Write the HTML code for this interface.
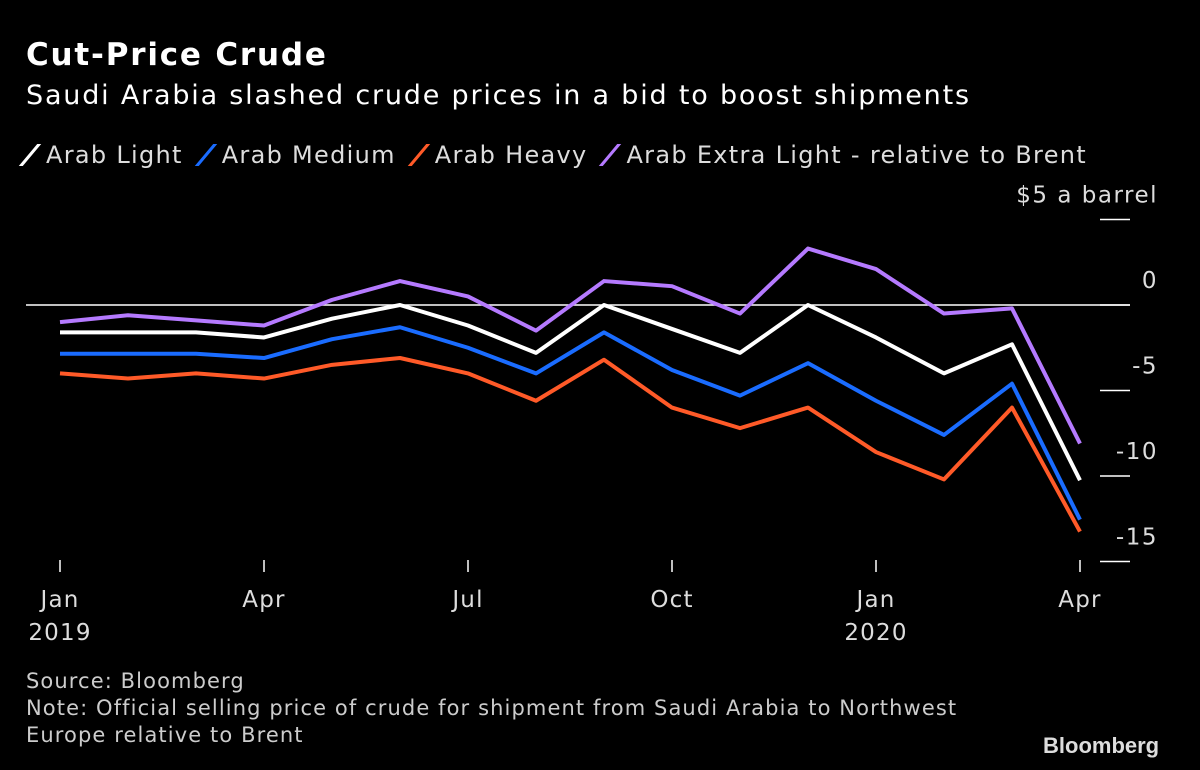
<!DOCTYPE html>
<html><head><meta charset="utf-8"><style>
body{margin:0;background:#000;width:1200px;height:770px;overflow:hidden;font-family:"DejaVu Sans",sans-serif;color:#fff}
.t{position:absolute;white-space:nowrap}
.mk{display:inline-block;width:4px;height:22px;transform:skewX(-40deg);margin:0 14px 0 12px;vertical-align:-3px}
</style></head><body>
<div class="t" style="left:26px;top:37px;font-size:31px;font-weight:bold;letter-spacing:1.8px">Cut-Price Crude</div>
<div class="t" style="left:26px;top:80px;font-size:27px;letter-spacing:1.8px">Saudi Arabia slashed crude prices in a bid to boost shipments</div>
<div class="t" style="left:16px;top:141px;font-size:24px;color:#ddd;letter-spacing:1.3px">
<span><i class="mk" style="background:#fff"></i>Arab Light</span>
<span><i class="mk" style="background:#1a6cff"></i>Arab Medium</span>
<span><i class="mk" style="background:#ff5a28"></i>Arab Heavy</span>
<span><i class="mk" style="background:#b57aff"></i>Arab Extra Light - relative to Brent</span></div>
<svg id="c" width="1200" height="770" style="position:absolute;left:0;top:0"></svg>
<div class="t" style="left:26px;top:668px;font-size:21px;color:#ccc;line-height:27px;letter-spacing:1.1px">Source: Bloomberg<br>Note: Official selling price of crude for shipment from Saudi Arabia to Northwest<br>Europe relative to Brent</div>
<div class="t" style="left:1043px;top:733px;font-size:22px;font-weight:bold;color:#ddd;font-family:'Liberation Sans',sans-serif">Bloomberg</div>
<script>
const months=["Jan 2019","Feb","Mar","Apr","May","Jun","Jul","Aug","Sep","Oct","Nov","Dec","Jan 2020","Feb","Mar","Apr"];
const arabLight=[-1.6,-1.6,-1.6,-1.9,-0.8,0,-1.2,-2.8,0,-1.4,-2.8,0,-1.9,-4.0,-2.3,-10.25];
const arabMedium=[-2.85,-2.85,-2.85,-3.1,-2.0,-1.3,-2.5,-4.0,-1.6,-3.8,-5.3,-3.4,-5.6,-7.6,-4.6,-12.55];
const arabHeavy=[-4.0,-4.3,-4.0,-4.3,-3.5,-3.1,-4.0,-5.6,-3.2,-6.0,-7.2,-6.0,-8.6,-10.2,-6.0,-13.25];
const arabExtraLight=[-1.0,-0.6,-0.9,-1.2,0.3,1.4,0.5,-1.5,1.4,1.1,-0.5,3.3,2.1,-0.5,-0.2,-8.1];
const yTicks=[5,0,-5,-10,-15];
const yTickLabels=["$5 a barrel","0","-5","-10","-15"];
const xTickIdx=[0,3,6,9,12,15];
const xTickLabels=[["Jan","2019"],["Apr",""],["Jul",""],["Oct",""],["Jan","2020"],["Apr",""]];
const svg=document.getElementById('c'),NS='http://www.w3.org/2000/svg';
const x=i=>60+i*68, y=v=>305-v*17.1;
function mk(t,a,p){const e=document.createElementNS(NS,t);for(const k in a)e.setAttribute(k,a[k]);(p||svg).appendChild(e);return e;}
mk('line',{x1:26,x2:1130,y1:y(0),y2:y(0),stroke:'#fff','stroke-width':1.5});
yTicks.forEach((v,i)=>{
 const l=mk('line',{x1:1100,x2:1130,y1:y(v),y2:y(v),stroke:'#fff','stroke-width':1.5});
 
 
 const t=mk('text',{x:1158,y:y(v)-17,fill:'#ddd','font-size':23,'letter-spacing':1.5,'text-anchor':'end','font-family':'DejaVu Sans'});
 t.textContent=yTickLabels[i];
 
 
});
xTickIdx.forEach((m,i)=>{
 const l=mk('line',{x1:x(m),x2:x(m),y1:560,y2:572,stroke:'#fff','stroke-width':1.5});
 
 
 xTickLabels[i].forEach((s,j)=>{
  const t=mk('text',{x:x(m),y:607+j*33,fill:'#ddd','font-size':23,'letter-spacing':1.2,'text-anchor':'middle','font-family':'DejaVu Sans'});
  t.textContent=s;
  
  
 });
});
[[arabExtraLight,'#b57aff','arab-extra-light'],[arabLight,'#fff','arab-light'],[arabMedium,'#1a6cff','arab-medium'],[arabHeavy,'#ff5a28','arab-heavy']].forEach(([d,c,n])=>{
 const p=mk('polyline',{points:d.map((v,i)=>x(i)+','+y(v)).join(' '),fill:'none',stroke:c,'stroke-width':4,'stroke-linejoin':'round'});
 
 
});
</script>
</body></html>
